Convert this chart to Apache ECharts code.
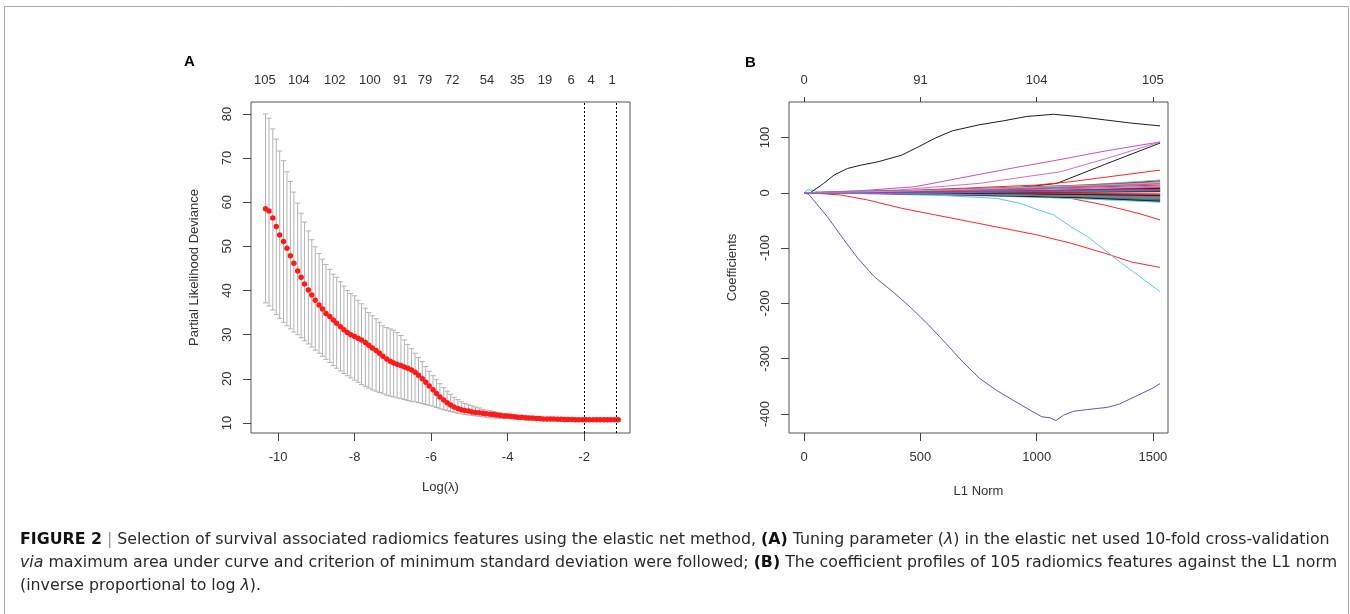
<!DOCTYPE html>
<html>
<head>
<meta charset="utf-8">
<script src="https://cdn.jsdelivr.net/npm/echarts@6.0.0/dist/echarts.min.js"></script>
<style>
html,body{margin:0;padding:0;background:#fff;}
#chart{width:1350px;height:614px;}
</style>
</head>
<body>
<div id="chart"></div>
<script>
// ---------- Panel A: cross-validation curve ----------
const logLambda = [-10.33,-10.24,-10.14,-10.05,-9.96,-9.86,-9.77,-9.68,-9.59,-9.49,
  -9.40,-9.31,-9.21,-9.12,-9.03,-8.93,-8.84,-8.75,-8.65,-8.56,
  -8.47,-8.37,-8.28,-8.19,-8.10,-8.00,-7.91,-7.82,-7.72,-7.63,
  -7.54,-7.44,-7.35,-7.26,-7.16,-7.07,-6.98,-6.89,-6.79,-6.70,
  -6.61,-6.51,-6.42,-6.33,-6.23,-6.14,-6.05,-5.95,-5.86,-5.77,
  -5.67,-5.58,-5.49,-5.40,-5.30,-5.21,-5.12,-5.02,-4.93,-4.84,
  -4.74,-4.65,-4.56,-4.46,-4.37,-4.28,-4.19,-4.09,-4.00,-3.91,
  -3.81,-3.72,-3.63,-3.53,-3.44,-3.35,-3.25,-3.16,-3.07,-2.97,
  -2.88,-2.79,-2.69,-2.60,-2.51,-2.42,-2.32,-2.23,-2.14,-2.04,
  -1.95,-1.86,-1.76,-1.67,-1.58,-1.48,-1.39,-1.30,-1.21,-1.11];
const cvMean = [58.5,58.0,56.4,54.5,52.6,51.1,49.6,47.9,46.2,44.4,
  43.0,41.5,40.1,39.0,37.8,36.7,35.8,34.8,34.1,33.3,
  32.6,31.8,31.1,30.5,30.0,29.6,29.2,28.8,28.2,27.6,
  27.0,26.4,25.8,25.1,24.5,24.0,23.6,23.3,23.0,22.7,
  22.4,22.0,21.5,20.8,20.0,19.2,18.4,17.5,16.7,15.9,
  15.2,14.6,14.1,13.6,13.3,13.0,12.8,12.7,12.5,12.4,
  12.3,12.2,12.1,12.0,11.9,11.8,11.7,11.6,11.6,11.5,
  11.4,11.3,11.3,11.2,11.1,11.1,11.0,11.0,10.9,10.9,
  10.9,10.9,10.85,10.85,10.8,10.8,10.8,10.75,10.75,10.75,
  10.75,10.75,10.75,10.75,10.75,10.75,10.75,10.75,10.75,10.75];
const cvUpper = [80.0,79.0,76.6,74.3,71.6,69.4,66.9,64.7,62.3,59.8,
  57.5,55.5,53.5,51.5,49.9,48.4,47.1,45.9,44.8,43.7,
  43.0,42.0,41.0,40.0,39.3,38.8,37.8,37.0,36.0,35.0,
  34.3,33.6,32.8,32.0,31.6,31.3,31.0,30.5,29.8,28.8,
  27.8,26.8,25.8,24.8,23.9,22.8,21.7,20.7,19.8,18.9,
  18.0,17.2,16.5,15.8,15.3,14.8,14.4,14.1,13.9,13.6,
  13.4,13.1,12.9,12.8,12.6,12.4,12.3,12.1,12.0,11.9,
  11.8,11.7,11.6,11.5,11.4,11.3,11.3,11.2,11.2,11.1,
  11.1,11.0,11.0,11.0,11.0,11.0,11.0,11.0,11.0,11.0,
  11.0,11.0,11.0,11.0,11.0,11.0,11.0,11.0,11.0,11.0];
const cvLower = [37.2,36.5,35.6,34.6,33.7,32.8,32.0,31.3,30.6,30.0,
  29.3,28.6,27.9,27.2,26.5,25.8,25.1,24.4,23.7,23.0,
  22.4,21.8,21.2,20.7,20.2,19.7,19.2,18.7,18.3,17.9,
  17.5,17.2,16.9,16.6,16.3,16.1,15.9,15.7,15.5,15.3,
  15.1,14.9,14.8,14.6,14.4,14.2,14.0,13.8,13.5,13.2,
  13.0,12.8,12.6,12.4,12.2,12.1,11.9,11.8,11.7,11.6,
  11.5,11.4,11.3,11.2,11.2,11.1,11.1,11.0,11.0,10.9,
  10.9,10.8,10.8,10.7,10.7,10.6,10.6,10.6,10.5,10.5,
  10.5,10.5,10.5,10.5,10.5,10.5,10.5,10.5,10.5,10.5,
  10.5,10.5,10.5,10.5,10.5,10.5,10.5,10.5,10.5,10.5];
const dfTopPos = [-10.35,-9.46,-8.52,-7.60,-6.81,-6.16,-5.45,-4.54,-3.75,-3.02,-2.34,-1.82,-1.27];
const dfTopLabels = ['105','104','102','100','91','79','72','54','35','19','6','4','1'];
const lambdaLines = [-1.99, -1.16];
const aXTicks = [-10,-8,-6,-4,-2];
const aYTicks = [10,20,30,40,50,60,70,80];

// ---------- Panel B: coefficient profiles ----------
const bXTicks = [0,500,1000,1500];
const bTopLabels = ['0','91','104','105'];
const bYTicks = [-400,-300,-200,-100,0,100];
const pathColors = ['#1e1e1e','#ff2626','#27b24a','#4f5cd0','#5cc8e6','#cc4fbf'];
const pathGrid = [0,300,600,900,1200,1531];
const smallPaths = [
  [0,1,3,6,12,22],[0,2,5,8,12,17],[0,-1,-3,-6,-10,-14],[0,1,2,4,6,9],[0,2,4,8,14,23],[0,1,3,5,8,12],
  [0,-1,-2,-4,-8,-12],[0,2,6,10,14,20],[0,-1,-2,-5,-8,-10],[0,-1,-3,-5,-8,-13],[0,-1,-2,-4,-6,-8],[0,1,2,3,4,6],
  [0,0,1,2,3,4],[0,1,3,5,7,10],[0,-1,-3,-5,-9,-16],[0,1,2,3,5,7],[0,-1,-4,-7,-11,-17],[0,-1,-2,-3,-5,-7],
  [0,-1,-3,-6,-9,-15],[0,1,4,7,10,14],[0,0,-1,-2,-3,-5],[0,0,1,1,2,3],[0,0,-1,-1,-2,-3],[0,1,2,4,6,8],
  [0,0,0,1,1,2],[0,0,-1,-1,-1,-2],[0,-1,-2,-4,-7,-11],[0,0,-1,-2,-4,-6],[0,1,2,4,7,11],[0,0,-1,-2,-3,-4],
  [0,1,2,3,5,8],[0,-1,-1,-2,-2,-3],[0,-1,-2,-3,-5,-8],[0,1,1,2,3,5],[0,0,1,2,3,5],[0,2,4,7,11,16],
  [0,0,-1,-2,-3,-5],[0,1,2,3,5,6],[0,-1,-3,-4,-6,-9],[0,0,1,2,3,4],[0,2,5,9,13,18],[0,-1,-2,-4,-6,-10]
];
const pathBlackTop = [[0,0],[26,0],[84,17],[128,32],[186,44],[244,50],[317,56],[419,68],[491,83],[564,99],[637,112],[753,123],[855,130],[956,138],[1073,142],[1174,138],[1291,132],[1407,126],[1531,121]];
const pathBlueBottom = [[0,0],[20,-3],[99,-43],[171,-85],[230,-118],[302,-152],[390,-182],[462,-209],[535,-239],[622,-278],[680,-305],[753,-335],[826,-357],[898,-375],[971,-393],[1022,-405],[1058,-407],[1083,-412],[1116,-402],[1160,-395],[1218,-392],[1305,-388],[1356,-382],[1436,-366],[1496,-354],[1531,-345]];
const pathRed135 = [[0,0],[60,-1],[157,-4],[273,-13],[419,-28],[564,-40],[710,-52],[855,-64],[1000,-76],[1146,-91],[1291,-109],[1407,-125],[1531,-135]];
const pathCyan180 = [[0,0],[300,-2],[600,-5],[826,-10],[928,-19],[1000,-30],[1073,-40],[1146,-61],[1218,-79],[1291,-103],[1364,-127],[1436,-149],[1531,-179]];
const pathRed50 = [[0,0],[400,-2],[800,-5],[1000,-6],[1146,-10],[1291,-22],[1436,-37],[1531,-49]];
const pathMagentaA = [[0,0],[250,4],[477,11],[700,29],[900,45],[1087,59],[1300,76],[1531,92]];
const pathMagentaB = [[0,0],[400,5],[753,17],[1102,38],[1300,62],[1531,92]];
const pathBlack90 = [[0,0],[600,3],[900,8],[1087,17],[1291,51],[1531,90]];
const pathRed42 = [[0,0],[500,5],[1000,14],[1146,20],[1531,41]];
const pathCyanStart = [[0,0],[12,5],[38,5],[60,1],[150,0]];

const chart = echarts.init(document.getElementById('chart'), null, {renderer:'canvas'});
const FONT = 'Liberation Sans, Arial, sans-serif';
const CAPFONT = 'DejaVu Sans, sans-serif';
const CAPSIZE = 15.8;
const axisCol = '#444';
const labelStyle = {color:'#333', fontFamily:FONT, fontSize:13};
const plainFmt = function(v){ return String(v); };

const series = [];
// error bars
series.push({
  type:'custom', xAxisIndex:0, yAxisIndex:0, silent:true, z:2,
  data: logLambda.map((x,i)=>[x, cvLower[i], cvUpper[i]]),
  encode:{x:0, y:[1,2]},
  renderItem:function(params, api){
    const x = api.value(0);
    const pLo = api.coord([x, api.value(1)]);
    const pHi = api.coord([x, api.value(2)]);
    const w = 2.6;
    const st = {stroke:'#b3b3b3', lineWidth:1};
    return {type:'group', children:[
      {type:'line', shape:{x1:pHi[0],y1:pHi[1],x2:pLo[0],y2:pLo[1]}, style:st},
      {type:'line', shape:{x1:pHi[0]-w,y1:pHi[1],x2:pHi[0]+w,y2:pHi[1]}, style:st},
      {type:'line', shape:{x1:pLo[0]-w,y1:pLo[1],x2:pLo[0]+w,y2:pLo[1]}, style:st}
    ]};
  }
});
series.push({
  type:'scatter', xAxisIndex:0, yAxisIndex:0, silent:true, z:3,
  symbol:'circle', symbolSize:5.5,
  itemStyle:{color:'#ff1a1a', opacity:1},
  data: logLambda.map((x,i)=>[x, cvMean[i]]),
  markLine:{
    silent:true, symbol:['none','none'], label:{show:false},
    lineStyle:{type:[2,2], color:'#000', width:1},
    data: lambdaLines.map(v=>({xAxis:v}))
  }
});
function addPath(data, color){
  series.push({type:'line', xAxisIndex:2, yAxisIndex:1, silent:true, showSymbol:false,
    symbol:'none', data:data, lineStyle:{color:color, width:1}, z:2});
}
addPath(pathCyanStart, pathColors[4]);
addPath(pathBlackTop, pathColors[0]);
addPath(pathBlueBottom, '#5a5ac4');
addPath(pathRed135, pathColors[1]);
addPath(pathCyan180, pathColors[4]);
addPath(pathRed50, pathColors[1]);
addPath(pathMagentaA, pathColors[5]);
addPath(pathMagentaB, '#d070c8');
addPath(pathBlack90, pathColors[0]);
addPath(pathRed42, pathColors[1]);
smallPaths.forEach((vals, k)=>{
  addPath(pathGrid.map((x,i)=>[x, vals[i]]), pathColors[k % pathColors.length]);
});

const noLine = {show:false, onZero:false};
const option = {
  backgroundColor:'#fff',
  animation:false,
  grid:[
    {left:251, top:102, width:379, height:331, show:true, borderColor:'#555', borderWidth:1, backgroundColor:'transparent'},
    {left:789, top:102, width:379, height:331, show:true, borderColor:'#555', borderWidth:1, backgroundColor:'transparent'}
  ],
  xAxis:[
    {type:'value', gridIndex:0, min:-10.71, max:-0.80, position:'bottom',
     axisLine:noLine, splitLine:{show:false},
     axisTick:{show:true, inside:false, length:8, lineStyle:{color:axisCol}, customValues:aXTicks},
     axisLabel:Object.assign({margin:18, customValues:aXTicks, formatter:plainFmt}, labelStyle),
     name:'Log(λ)', nameLocation:'middle', nameGap:48, nameTextStyle:Object.assign({}, labelStyle)},
    {type:'value', gridIndex:0, min:-10.71, max:-0.80, position:'top',
     axisLine:noLine, splitLine:{show:false}, axisTick:{show:false},
     axisLabel:Object.assign({margin:15, customValues:dfTopPos,
       formatter:function(v){ const i = dfTopPos.indexOf(v); return i>=0 ? dfTopLabels[i] : ''; }}, labelStyle)},
    {type:'value', gridIndex:1, min:-65.4, max:1565, position:'bottom',
     axisLine:noLine, splitLine:{show:false},
     axisTick:{show:true, length:8, lineStyle:{color:axisCol}, customValues:bXTicks},
     axisLabel:Object.assign({margin:18, customValues:bXTicks, formatter:plainFmt}, labelStyle),
     name:'L1 Norm', nameLocation:'middle', nameGap:52, nameTextStyle:Object.assign({}, labelStyle)},
    {type:'value', gridIndex:1, min:-65.4, max:1565, position:'top',
     axisLine:noLine, splitLine:{show:false},
     axisTick:{show:true, length:5, lineStyle:{color:axisCol}, customValues:bXTicks},
     axisLabel:Object.assign({margin:15, customValues:bXTicks,
       formatter:function(v){ const i = bXTicks.indexOf(v); return i>=0 ? bTopLabels[i] : ''; }}, labelStyle)}
  ],
  yAxis:[
    {type:'value', gridIndex:0, min:7.73, max:82.7, position:'left',
     axisLine:noLine, splitLine:{show:false},
     axisTick:{show:true, length:8, lineStyle:{color:axisCol}, customValues:aYTicks},
     axisLabel:Object.assign({margin:17, rotate:90, customValues:aYTicks, formatter:plainFmt}, labelStyle),
     name:'Partial Likelihood Deviance', nameLocation:'middle', nameGap:50, nameRotate:90,
     nameTextStyle:Object.assign({}, labelStyle)},
    {type:'value', gridIndex:1, min:-434.4, max:164.2, position:'left',
     axisLine:noLine, splitLine:{show:false},
     axisTick:{show:true, length:8, lineStyle:{color:axisCol}, customValues:bYTicks},
     axisLabel:Object.assign({margin:17, rotate:90, customValues:bYTicks, formatter:plainFmt}, labelStyle),
     name:'Coefficients', nameLocation:'middle', nameGap:50, nameRotate:90,
     nameTextStyle:Object.assign({}, labelStyle)}
  ],
  series:series,
  graphic:[
    {type:'rect', shape:{x:4.5, y:6.5, width:1344, height:640}, style:{fill:'none', stroke:'#aaa', lineWidth:1}, silent:true},
    {type:'text', left:184, top:54, style:{text:'A', font:'bold 15px '+FONT, fill:'#000'}},
    {type:'text', left:745, top:55, style:{text:'B', font:'bold 15px '+FONT, fill:'#000'}},
    {type:'text', left:20, top:532, style:{
      text:'{b|FIGURE 2} {g||} Selection of survival associated radiomics features using the elastic net method, {b|(A)} Tuning parameter ({i|λ}) in the elastic net used 10-fold cross-validation',
      font:CAPSIZE+'px '+CAPFONT, fill:'#2a2a2a',
      rich:{b:{fontWeight:'bold', fontSize:CAPSIZE, fontFamily:CAPFONT, fill:'#111'}, i:{fontStyle:'italic', fontSize:CAPSIZE, fontFamily:CAPFONT}, g:{fill:'#999', fontSize:CAPSIZE, fontFamily:CAPFONT}}
    }},
    {type:'text', left:20, top:555, style:{
      text:'{i|via} maximum area under curve and criterion of minimum standard deviation were followed; {b|(B)} The coefficient profiles of 105 radiomics features against the L1 norm',
      font:CAPSIZE+'px '+CAPFONT, fill:'#2a2a2a',
      rich:{b:{fontWeight:'bold', fontSize:CAPSIZE, fontFamily:CAPFONT, fill:'#111'}, i:{fontStyle:'italic', fontSize:CAPSIZE, fontFamily:CAPFONT}}
    }},
    {type:'text', left:20, top:578, style:{
      text:'(inverse proportional to log {i|λ}).',
      font:CAPSIZE+'px '+CAPFONT, fill:'#2a2a2a',
      rich:{i:{fontStyle:'italic', fontSize:CAPSIZE, fontFamily:CAPFONT}}
    }}
  ]
};
chart.setOption(option);
</script>
</body>
</html>
